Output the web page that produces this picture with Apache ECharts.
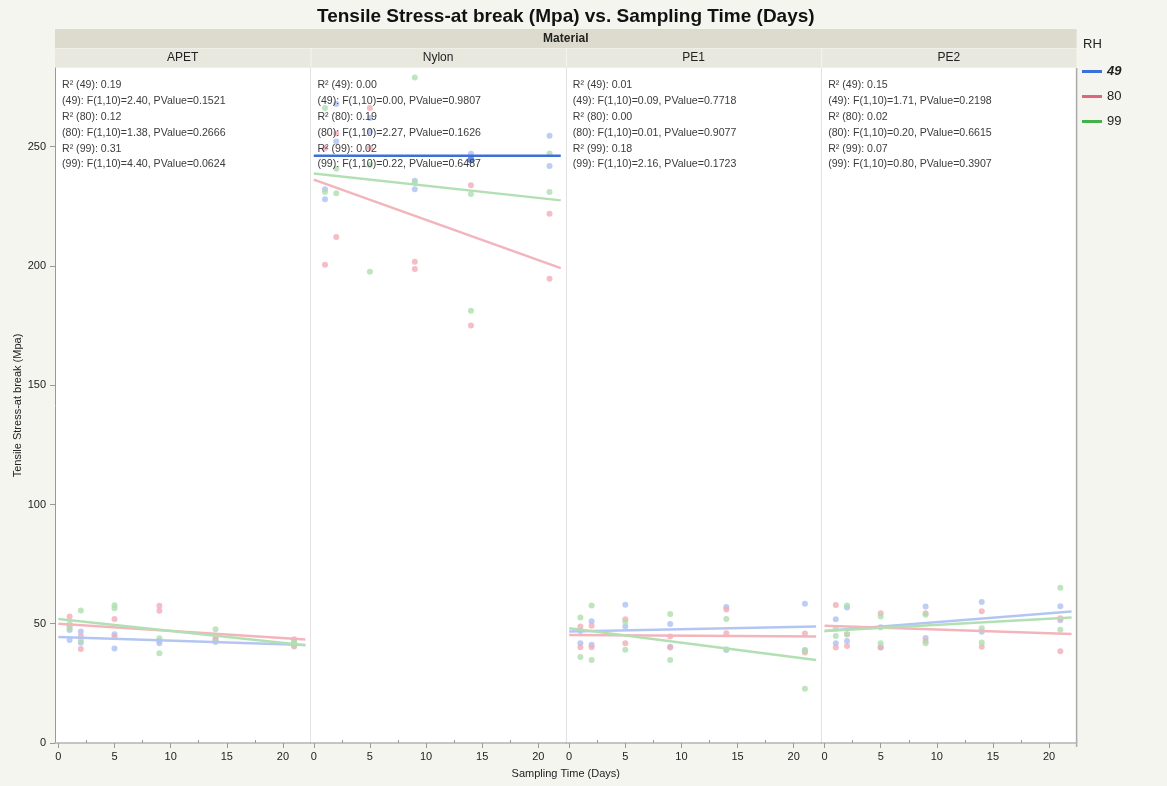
<!DOCTYPE html>
<html><head><meta charset="utf-8">
<script src="https://cdn.jsdelivr.net/npm/echarts@6/dist/echarts.min.js"></script>
<style>html,body{margin:0;padding:0;background:#f5f5f0}#c{width:1167px;height:786px}</style>
</head><body><div id="c"></div>
<script>
// ---------------- data ----------------
const days = [1, 2, 5, 9, 14, 21];
const materials = ['APET', 'Nylon', 'PE1', 'PE2'];
const rhLevels = ['49', '80', '99'];
const xTickLabels = [0, 5, 10, 15, 20];
const xMinorTicks = [2.5, 7.5, 12.5, 17.5];
const yTicks = [0, 50, 100, 150, 200, 250];

// two replicate values per sampling day, day by day
const apet49 = [47.4, 43.2, 46.7, 42.0, 45.6, 39.6, 42.9, 41.8, 43.5, 42.5, 42.0, 41.0];
const apet80 = [53.0, 49.0, 44.9, 39.4, 52.0, 44.5, 57.5, 55.4, 44.5, 43.0, 43.5, 40.5];
const apet99 = [50.0, 48.0, 55.5, 43.2, 57.8, 56.5, 43.9, 37.6, 47.7, 42.5, 42.5, 41.0];

const nylon49 = [232.2, 228.0, 267.9, 252.2, 262.0, 256.4, 232.2, 235.7, 247.0, 244.5, 254.6, 241.9];
const nylon80 = [249.4, 200.5, 255.5, 212.1, 266.2, 249.5, 201.8, 198.7, 233.8, 175.0, 221.9, 194.6];
const nylon99 = [266.2, 231.0, 240.8, 230.5, 242.3, 197.6, 279.0, 235.0, 230.2, 181.2, 247.2, 231.0];

const pe1_49 = [47.0, 41.8, 51.0, 41.2, 58.0, 48.8, 49.9, 40.4, 57.0, 39.0, 58.4, 39.0];
const pe1_80 = [48.8, 40.1, 49.2, 40.1, 51.9, 41.8, 44.6, 40.0, 56.0, 46.0, 45.9, 37.9];
const pe1_99 = [52.6, 36.1, 57.6, 34.8, 50.8, 39.1, 54.1, 34.8, 52.0, 39.3, 38.6, 22.7];

const pe2_49 = [51.9, 41.8, 56.8, 42.8, 48.5, 40.0, 57.2, 44.0, 59.1, 46.6, 57.3, 51.5];
const pe2_80 = [57.9, 40.0, 45.5, 40.7, 54.4, 40.1, 54.4, 42.8, 55.2, 40.4, 52.3, 38.5];
const pe2_99 = [48.0, 44.9, 57.6, 45.7, 53.0, 41.8, 53.8, 41.8, 48.1, 42.1, 65.1, 47.5];

// fitted lines: value at fitDays[0] and fitDays[1], per RH (49, 80, 99)
const fitDays = [0, 22];
const fitAPET = [[44.4, 41.1], [50.0, 43.4], [52.0, 41.0]];
const fitNylon = [[246.2, 246.2], [236.2, 199.1], [238.8, 227.5]];
const fitPE1 = [[46.7, 48.8], [45.3, 44.6], [48.1, 34.8]];
const fitPE2 = [[47.0, 55.1], [49.2, 45.7], [47.0, 52.6]];

const statsAPET = ['R\u00b2 (49): 0.19', '(49): F(1,10)=2.40, PValue=0.1521', 'R\u00b2 (80): 0.12', '(80): F(1,10)=1.38, PValue=0.2666', 'R\u00b2 (99): 0.31', '(99): F(1,10)=4.40, PValue=0.0624'];
const statsNylon = ['R\u00b2 (49): 0.00', '(49): F(1,10)=0.00, PValue=0.9807', 'R\u00b2 (80): 0.19', '(80): F(1,10)=2.27, PValue=0.1626', 'R\u00b2 (99): 0.02', '(99): F(1,10)=0.22, PValue=0.6487'];
const statsPE1 = ['R\u00b2 (49): 0.01', '(49): F(1,10)=0.09, PValue=0.7718', 'R\u00b2 (80): 0.00', '(80): F(1,10)=0.01, PValue=0.9077', 'R\u00b2 (99): 0.18', '(99): F(1,10)=2.16, PValue=0.1723'];
const statsPE2 = ['R\u00b2 (49): 0.15', '(49): F(1,10)=1.71, PValue=0.2198', 'R\u00b2 (80): 0.02', '(80): F(1,10)=0.20, PValue=0.6615', 'R\u00b2 (99): 0.07', '(99): F(1,10)=0.80, PValue=0.3907'];

// ---------------- layout / style ----------------
const FONT = "'Liberation Sans', Arial, sans-serif";
const pointColors = ['#adc1f2', '#f3adb6', '#aedeae'];
const lineColors = ['#b3c6f3', '#f2b5bc', '#b3e0b3'];
const legendColors = ['#3d6fd9', '#e0677a', '#44b048'];
const highlight = '#3d6fd9';
const PLOT_L = 55, PITCH = 255.4, PLOT_T = 68, PLOT_B = 743;
const PLOT_H = PLOT_B - PLOT_T;
const gl = m => PLOT_L + m * PITCH;

const values = [[apet49, apet80, apet99], [nylon49, nylon80, nylon99], [pe1_49, pe1_80, pe1_99], [pe2_49, pe2_80, pe2_99]];
const fits = [fitAPET, fitNylon, fitPE1, fitPE2];
const stats = [statsAPET, statsNylon, statsPE1, statsPE2];

const grids = [], xAxes = [], yAxes = [], series = [];
materials.forEach((mat, m) => {
  grids.push({ left: gl(m), top: PLOT_T, width: PITCH, height: PLOT_H, show: true, backgroundColor: '#ffffff', borderWidth: 0 });
  xAxes.push({
    type: 'value', gridIndex: m, min: -0.3, max: 22.45,
    axisLine: { show: true, onZero: false, lineStyle: { color: '#b4b4b4', width: 1.5 } },
    axisTick: { show: true, length: 5, customValues: xTickLabels, lineStyle: { color: '#999' } },
    axisLabel: { customValues: xTickLabels, fontSize: 11, color: '#222', margin: 8, fontFamily: FONT },
    splitLine: { show: false }
  });
  yAxes.push({
    type: 'value', gridIndex: m, min: 0, max: 283, interval: 50,
    name: m === 0 ? 'Tensile Stress-at break (Mpa)' : '',
    nameLocation: 'middle', nameGap: 29,
    nameTextStyle: { fontSize: 11, color: '#222', fontFamily: FONT },
    axisLine: { show: true, onZero: false, lineStyle: { color: m === 0 ? '#999' : '#e2e2e2', width: 1 } },
    axisTick: { show: m === 0, length: 5, lineStyle: { color: '#999' } },
    axisLabel: { show: m === 0, fontSize: 11, color: '#222', margin: 9, fontFamily: FONT, showMaxLabel: false },
    splitLine: { show: false }
  });
  rhLevels.forEach((rh, r) => {
    const isHL = (m === 1 && r === 0);
    series.push({
      type: 'line', name: rh, xAxisIndex: m, yAxisIndex: m,
      data: fitDays.map((d, i) => [d, fits[m][r][i]]),
      symbol: 'none', silent: true, z: isHL ? 4 : 3,
      lineStyle: { color: isHL ? highlight : lineColors[r], width: 2.5 }
    });
    series.push({
      type: 'scatter', name: rh, xAxisIndex: m, yAxisIndex: m,
      symbolSize: 6, z: 2,
      itemStyle: { color: pointColors[r] },
      data: values[m][r].map((v, i) => {
        const pt = { value: [days[Math.floor(i / 2)], v] };
        if (isHL && i === 9) { pt.itemStyle = { color: highlight }; pt.symbolSize = 7; }
        return pt;
      })
    });
  });
});
// minor ticks on x axes
materials.forEach((mat, m) => {
  xAxes.push({
    type: 'value', gridIndex: m, min: -0.3, max: 22.45,
    axisLine: { show: false }, axisLabel: { show: false }, splitLine: { show: false },
    axisTick: { show: true, length: 3, customValues: xMinorTicks, lineStyle: { color: '#999' } }
  });
});

const graphics = [];
// header bands
graphics.push({ type: 'rect', shape: { x: PLOT_L, y: 29, width: 4 * PITCH, height: 19 }, style: { fill: '#dcdbcd' }, silent: true });
materials.forEach((mat, m) => {
  graphics.push({ type: 'rect', shape: { x: gl(m) + (m ? 1 : 0), y: 48.5, width: PITCH - (m ? 1 : 0), height: 19 }, style: { fill: '#e9e8df' }, silent: true });
  graphics.push({ type: 'text', x: gl(m) + PITCH / 2, y: 58, style: { text: mat, font: '12px ' + FONT, fill: '#222', textAlign: 'center', textVerticalAlign: 'middle' }, silent: true });
  stats[m].forEach((s, k) => {
    graphics.push({ type: 'text', x: gl(m) + 7, y: 85 + k * 15.9, z: 100, style: { text: s, font: '10.6px ' + FONT, fill: '#3c3c3c', textVerticalAlign: 'middle' }, silent: true });
  });
});
graphics.push({ type: 'text', x: PLOT_L + 2 * PITCH, y: 38.5, style: { text: 'Material', font: 'bold 12px ' + FONT, fill: '#222', textAlign: 'center', textVerticalAlign: 'middle' }, silent: true });
// right border
graphics.push({ type: 'line', shape: { x1: PLOT_L + 4 * PITCH, y1: PLOT_T, x2: PLOT_L + 4 * PITCH, y2: PLOT_B + 4 }, style: { stroke: '#aaa', lineWidth: 1.5 }, silent: true });
// titles
graphics.push({ type: 'text', x: PLOT_L + 2 * PITCH, y: 17, style: { text: 'Tensile Stress-at break (Mpa) vs. Sampling Time (Days)', font: 'bold 19px ' + FONT, fill: '#111', textAlign: 'center', textVerticalAlign: 'middle' }, silent: true });
graphics.push({ type: 'text', x: PLOT_L + 2 * PITCH, y: 774, style: { text: 'Sampling Time (Days)', font: '11px ' + FONT, fill: '#222', textAlign: 'center', textVerticalAlign: 'middle' }, silent: true });
graphics.push({ type: 'text', x: 1083, y: 44, style: { text: 'RH', font: '13px ' + FONT, fill: '#222', textVerticalAlign: 'middle' }, silent: true });

const chart = echarts.init(document.getElementById('c'), null, { renderer: 'canvas' });
chart.setOption({
  animation: false,
  backgroundColor: '#f5f5f0',
  grid: grids, xAxis: xAxes, yAxis: yAxes, series: series,
  legend: {
    orient: 'vertical', left: 1077, top: 60, itemWidth: 20, itemHeight: 3, itemGap: 12, icon: 'rect',
    textStyle: { fontSize: 13, color: '#222', fontFamily: FONT },
    data: rhLevels.map((rh, r) => ({ name: rh, itemStyle: { color: legendColors[r] }, textStyle: r === 0 ? { fontWeight: 'bold', fontStyle: 'italic' } : {} }))
  },
  graphic: graphics
});
</script></body></html>
